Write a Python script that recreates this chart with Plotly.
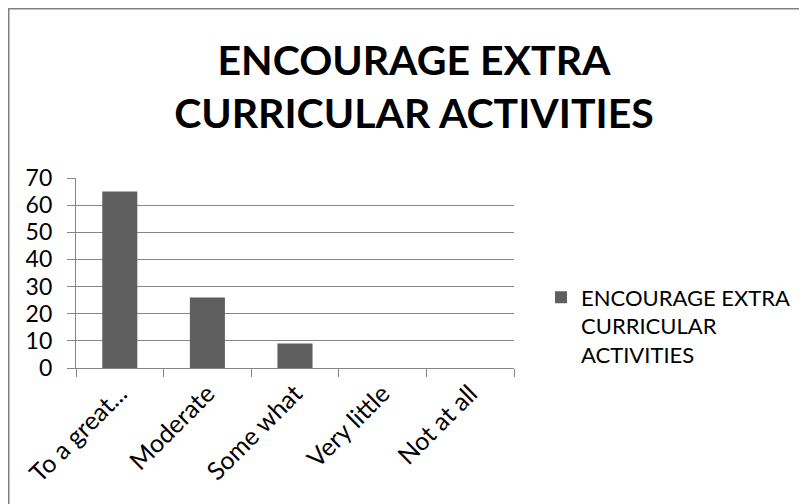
import plotly.graph_objects as go

categories = ["To a great...", "Moderate", "Some what", "Very little", "Not at all"]
values = [65, 26, 9, 0, 0]
series_name = "ENCOURAGE EXTRA<br>CURRICULAR<br>ACTIVITIES"
title_text = "ENCOURAGE EXTRA<br>CURRICULAR ACTIVITIES"
y_ticks = [0, 10, 20, 30, 40, 50, 60, 70]

FONT = "Lato"
GRID = "#868686"

fig = go.Figure()
fig.add_trace(go.Bar(
    x=categories, y=values, name=series_name,
    marker=dict(color="#5f5f5f", line=dict(width=0)),
    showlegend=True,
))

# the page body has an 8px margin, so figure coords = page coords - 8
W, H = 799, 496
L, R, T, B = 68, 293, 170, 136
pw, ph = W - L - R, H - T - B

def px_x(p):
    return (p - L) / pw

def px_y(p):
    return (H - B - p) / ph

fig.update_layout(
    width=W, height=H,
    margin=dict(l=L, r=R, t=T, b=B, autoexpand=False),
    paper_bgcolor="white", plot_bgcolor="white",
    font=dict(family=FONT, size=22, color="black"),
    bargap=0.6,
    title=dict(
        text=title_text,
        font=dict(family=FONT, size=41, color="black", weight="bold"),
        x=406 / W, xanchor="center",
        y=1 - 67 / H, yanchor="top", yref="container",
        automargin=False,
    ),
    xaxis=dict(
        type="category", automargin=False,
        showline=True, linecolor=GRID, linewidth=1.3,
        ticks="outside", tickson="boundaries", ticklen=8, tickcolor=GRID, tickwidth=1.3,
        tickangle=-45, tickfont=dict(family=FONT, size=25, color="black"),
        showgrid=False,
    ),
    yaxis=dict(
        range=[0, 70], tickvals=y_ticks, automargin=False,
        showline=True, linecolor=GRID, linewidth=1.3,
        ticks="outside", ticklen=8, tickcolor=GRID, tickwidth=1.3,
        showgrid=True, gridcolor=GRID, gridwidth=1.3,
        zeroline=False,
        tickfont=dict(family=FONT, size=23, color="black"),
        ticklabelstandoff=10,
    ),
    legend=dict(
        x=px_x(533), xanchor="left",
        y=px_y(318), yanchor="middle",
        valign="top",
        font=dict(family=FONT, size=22, color="black"),
        bgcolor="rgba(0,0,0,0)",
        itemwidth=30,
    ),
    shapes=[
        dict(type="rect", xref="paper", yref="paper",
             x0=px_x(0.75), x1=px_x(W + 20), y0=px_y(0.75), y1=px_y(H + 20),
             line=dict(color="#808080", width=1.5), fillcolor="rgba(0,0,0,0)", layer="below"),
    ],
)

fig.write_html("out.html")
